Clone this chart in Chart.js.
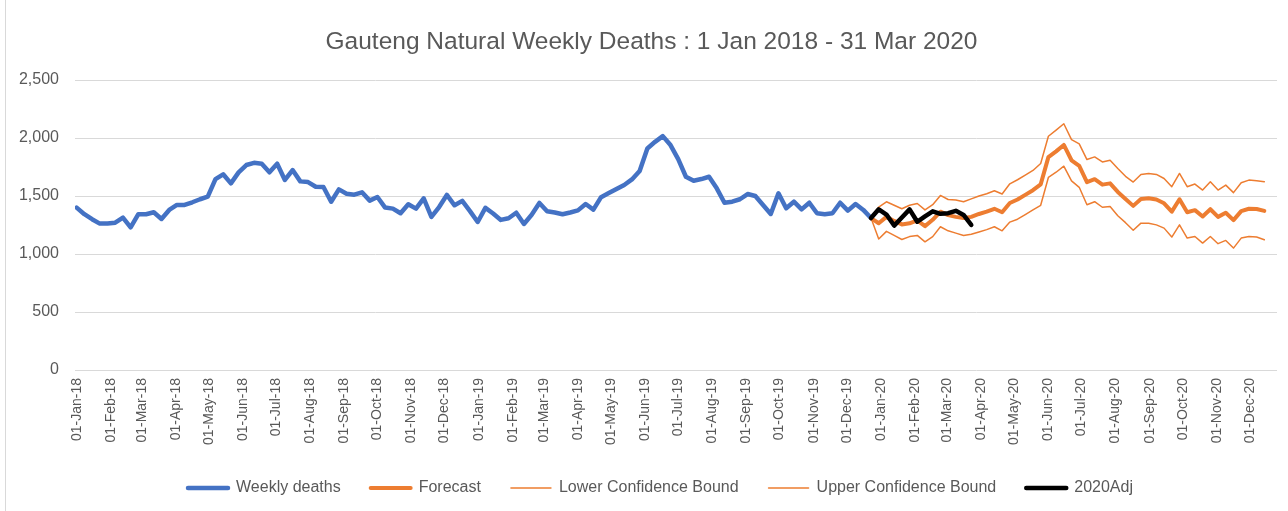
<!DOCTYPE html>
<html>
<head>
<meta charset="utf-8">
<script src="https://cdn.jsdelivr.net/npm/chart.js@4.4.1/dist/chart.umd.min.js"></script>
<style>
  html, body { margin: 0; padding: 0; background: #fff; }
  #wrap { position: relative; width: 1288px; height: 511px; }
  #frame { position: absolute; left: 5px; top: 0; bottom: 0; border-left: 1px solid #d9d9d9; pointer-events: none; }
</style>
</head>
<body>
<div id="wrap">
  <canvas id="chart" width="1288" height="511"></canvas>
  <div id="frame"></div>
</div>
<script>
// month labels on the x axis
const monthTicks = [
    '01-Jan-18', '01-Feb-18', '01-Mar-18', '01-Apr-18', '01-May-18', '01-Jun-18',
    '01-Jul-18', '01-Aug-18', '01-Sep-18', '01-Oct-18', '01-Nov-18', '01-Dec-18',
    '01-Jan-19', '01-Feb-19', '01-Mar-19', '01-Apr-19', '01-May-19', '01-Jun-19',
    '01-Jul-19', '01-Aug-19', '01-Sep-19', '01-Oct-19', '01-Nov-19', '01-Dec-19',
    '01-Jan-20', '01-Feb-20', '01-Mar-20', '01-Apr-20', '01-May-20', '01-Jun-20',
    '01-Jul-20', '01-Aug-20', '01-Sep-20', '01-Oct-20', '01-Nov-20', '01-Dec-20'
];

// weekly series, first week = 01-Jan-2018
const weeklyDeaths = [
    1400, 1343, 1300, 1262, 1262, 1270, 1313, 1230, 1343, 1343,
    1360, 1302, 1380, 1423, 1423, 1446, 1472, 1494, 1646, 1687,
    1609, 1704, 1767, 1786, 1778, 1704, 1778, 1638, 1724, 1626,
    1620, 1580, 1577, 1451, 1557, 1520, 1511, 1532, 1460, 1491,
    1400, 1391, 1351, 1429, 1391, 1480, 1320, 1405, 1509, 1420,
    1458, 1370, 1276, 1398, 1349, 1294, 1308, 1356, 1259, 1338,
    1440, 1368, 1358, 1343, 1358, 1376, 1431, 1383, 1490, 1525,
    1560, 1595, 1643, 1715, 1910, 1967, 2016, 1939, 1818, 1666,
    1632, 1646, 1666, 1566, 1442, 1451, 1472, 1517, 1500, 1423,
    1345, 1523, 1394, 1451, 1385, 1442, 1351, 1343, 1351, 1442,
    1374, 1431, 1380, 1310
];

// 2020 series start on the last week of weeklyDeaths
const forecastStartWeek = 103;

const forecast = [
    1310, 1265, 1320, 1285, 1255, 1265, 1290, 1240, 1295, 1365,
    1335, 1320, 1310, 1320, 1345, 1365, 1390, 1360, 1440, 1470,
    1510, 1550, 1600, 1835, 1885, 1940, 1808, 1760, 1620, 1645,
    1598, 1609, 1535, 1475, 1415, 1475, 1480, 1470, 1437, 1365,
    1472, 1360, 1378, 1323, 1386, 1320, 1355, 1292, 1370, 1390,
    1388, 1372
];

const lowerBound = [
    1310, 1130, 1195, 1160, 1125, 1150, 1160, 1105, 1150, 1235,
    1200, 1180, 1160, 1170, 1190, 1210, 1235, 1200, 1275, 1300,
    1340, 1380, 1420, 1660, 1705, 1757, 1630, 1575, 1425, 1451,
    1403, 1409, 1330, 1270, 1205, 1266, 1266, 1251, 1223, 1146,
    1251, 1137, 1151, 1094, 1151, 1089, 1117, 1051, 1137, 1151,
    1146, 1123
];

const upperBound = [
    1310, 1405, 1450, 1420, 1390, 1420, 1435, 1380, 1425, 1505,
    1470, 1465, 1450, 1475, 1500, 1520, 1545, 1517, 1605, 1640,
    1680, 1720, 1780, 2015, 2068, 2123, 1986, 1950, 1814, 1837,
    1794, 1809, 1737, 1670, 1620, 1686, 1694, 1686, 1651, 1580,
    1694, 1580, 1603, 1551, 1623, 1551, 1594, 1529, 1614, 1637,
    1631, 1623
];

const adj2020 = [
    1310, 1385, 1340, 1245, 1315, 1385, 1278, 1325, 1368, 1346,
    1352, 1372, 1337, 1251
];

const grey = '#595959';
const MONTHS = {Jan: 0, Feb: 1, Mar: 2, Apr: 3, May: 4, Jun: 5, Jul: 6, Aug: 7, Sep: 8, Oct: 9, Nov: 10, Dec: 11};
const origin = Date.UTC(2018, 0, 1);

// '01-Feb-18' -> days since 01-Jan-2018
function dayOf(label) {
    const [d, m, y] = label.split('-');
    return (Date.UTC(2000 + Number(y), MONTHS[m], Number(d)) - origin) / 86400000;
}
const tickDays = monthTicks.map(dayOf);

function weekPoints(values, firstWeek) {
    return values.map((v, i) => ({x: (firstWeek + i) * 7, y: v}));
}

function withCommas(v) {
    return String(v).replace(/\B(?=(\d{3})+(?!\d))/g, ',');
}

// Excel centres title and legend a little right of the canvas middle
const nudgeBoxes = {
    id: 'nudgeBoxes',
    afterLayout(chart) {
        chart.legend.left += 14;
        chart.legend.right += 14;
        chart.titleBlock.left += 5;
        chart.titleBlock.right += 5;
    }
};

Chart.defaults.font.family = "'Liberation Sans', Arial, sans-serif";

new Chart(document.getElementById('chart'), {
    type: 'line',
    data: {
        datasets: [{
            label: 'Weekly deaths',
            data: weekPoints(weeklyDeaths, 0),
            borderColor: '#4472C4',
            borderWidth: 4.5,
            order: 4
        }, {
            label: 'Forecast',
            data: weekPoints(forecast, forecastStartWeek),
            borderColor: '#ED7D31',
            borderWidth: 4,
            order: 3
        }, {
            label: 'Lower Confidence Bound',
            data: weekPoints(lowerBound, forecastStartWeek),
            borderColor: '#ED7D31',
            borderWidth: 1.5,
            order: 2
        }, {
            label: 'Upper Confidence Bound',
            data: weekPoints(upperBound, forecastStartWeek),
            borderColor: '#ED7D31',
            borderWidth: 1.5,
            order: 1
        }, {
            label: '2020Adj',
            data: weekPoints(adj2020, forecastStartWeek),
            borderColor: '#000000',
            borderWidth: 4.5,
            order: 0
        }]
    },
    plugins: [nudgeBoxes],
    options: {
        responsive: false,
        animation: false,
        devicePixelRatio: 1,
        layout: {padding: {left: 16, right: 11, top: 0, bottom: 5}},
        elements: {
            point: {radius: 0},
            line: {tension: 0, fill: false, borderJoinStyle: 'round', borderCapStyle: 'round'}
        },
        plugins: {
            title: {
                display: true,
                text: 'Gauteng Natural Weekly Deaths : 1 Jan 2018 - 31 Mar 2020',
                color: grey,
                font: {size: 24.5, weight: 'normal'},
                padding: {top: 27.3, bottom: 23.3}
            },
            legend: {
                position: 'bottom',
                labels: {
                    usePointStyle: true,
                    pointStyleWidth: 40,
                    padding: 30,
                    color: grey,
                    font: {size: 16},
                    generateLabels: chart => chart.data.datasets.map((ds, i) => ({
                        text: ds.label,
                        strokeStyle: ds.borderColor,
                        fillStyle: ds.borderColor,
                        lineWidth: ds.borderWidth,
                        lineCap: 'round',
                        pointStyle: 'line',
                        fontColor: grey,
                        hidden: false,
                        datasetIndex: i
                    }))
                }
            },
            tooltip: {enabled: false}
        },
        scales: {
            x: {
                type: 'linear',
                min: -1.5,
                max: 1089.5,
                grid: {display: false},
                border: {display: false},
                afterBuildTicks: scale => {
                    scale.ticks = tickDays.map(v => ({value: v}));
                },
                afterFit: scale => {
                    scale.height = 80;
                },
                ticks: {
                    autoSkip: false,
                    minRotation: 90,
                    maxRotation: 90,
                    padding: 0,
                    color: grey,
                    font: {size: 14},
                    callback: (v, i) => monthTicks[i]
                }
            },
            y: {
                min: 0,
                max: 2500,
                grid: {color: '#d9d9d9', drawTicks: false},
                border: {display: false},
                afterFit: scale => {
                    scale.width = 59;
                },
                ticks: {
                    stepSize: 500,
                    padding: 16,
                    color: grey,
                    font: {size: 16},
                    callback: v => withCommas(v)
                }
            }
        }
    }
});
</script>
</body>
</html>
